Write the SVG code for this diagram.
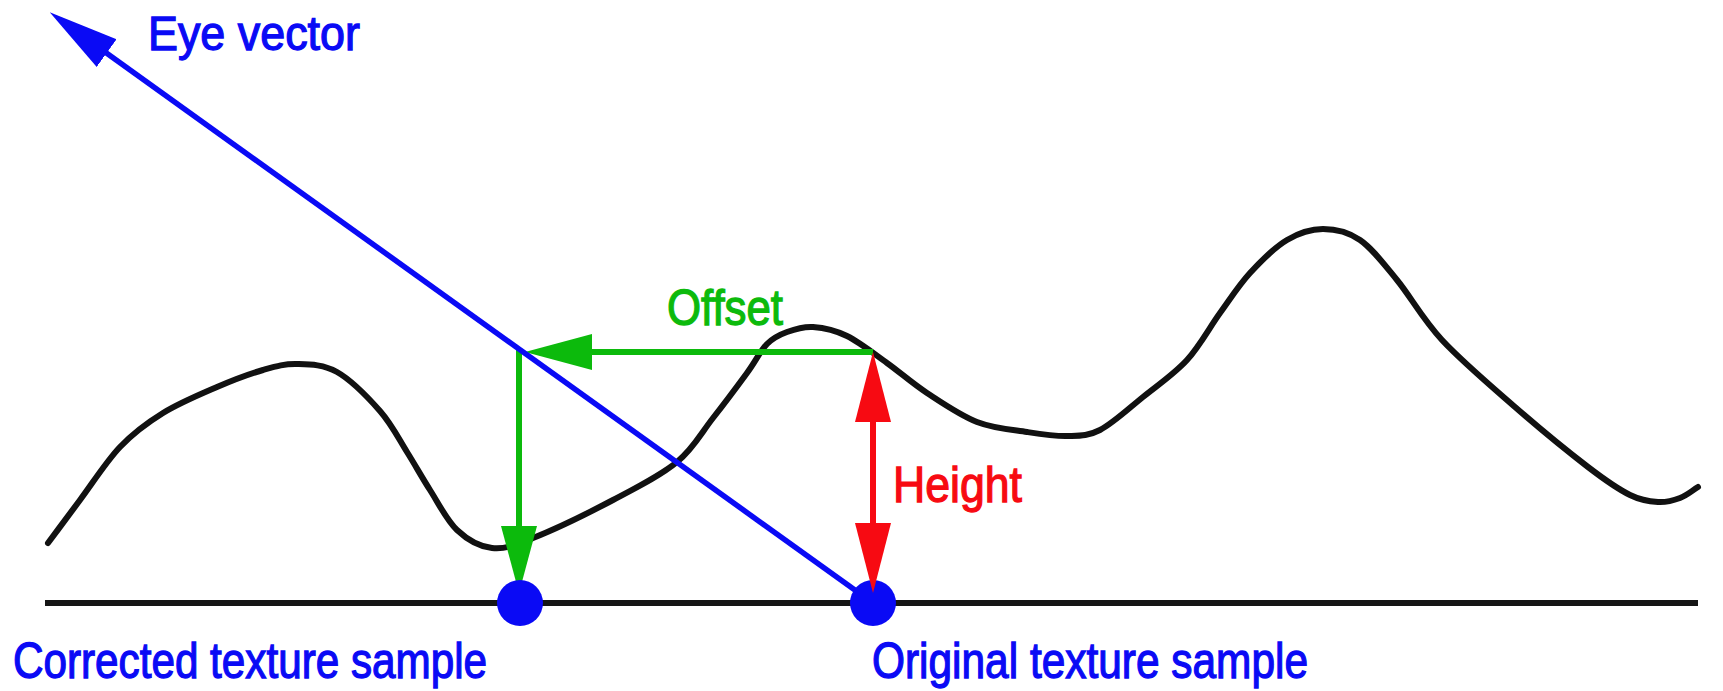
<svg xmlns="http://www.w3.org/2000/svg" width="1723" height="691" viewBox="0 0 1723 691">
<style>
text{font-family:"Liberation Sans",Arial,sans-serif;font-size:50px;stroke-width:1.3}
.blue{fill:#0a0af5}
text.blue{stroke:#0a0af5}
.green{fill:#0cba0c;stroke:#0cba0c}
.red{fill:#f70a12;stroke:#f70a12}
.ground{stroke:#161616;stroke-width:6;fill:none}
.surface{stroke:#111;stroke-width:6;fill:none;stroke-linecap:round;stroke-linejoin:round}
.eye{stroke:#0a0af5;stroke-width:5.5;fill:none}
.off{stroke:#0cba0c;stroke-width:6;fill:none}
.hgt{stroke:#f70a12;stroke-width:6;fill:none}
</style>
<defs>
<marker id="ahBlue" markerUnits="userSpaceOnUse" markerWidth="72" markerHeight="40" refX="50" refY="20" orient="auto">
<path d="M0,3 L70,20 L0,37 Z" fill="#0a0af5"/>
</marker>
<marker id="ahGreen" markerUnits="userSpaceOnUse" markerWidth="72" markerHeight="40" refX="47" refY="20" orient="auto">
<path d="M0,2 L67,20 L0,38 Z" fill="#0cba0c"/>
</marker>
<marker id="ahRed" markerUnits="userSpaceOnUse" markerWidth="72" markerHeight="40" refX="50" refY="20" orient="auto-start-reverse">
<path d="M0,2 L70,20 L0,38 Z" fill="#f70a12"/>
</marker>
</defs>
<rect width="1723" height="691" fill="#fff"/>

<g id="ground">
<line class="ground" x1="45" y1="603" x2="1698" y2="603"/>
</g>

<g id="surface">
<path class="surface" d="M48,543 C58.7,528.7 68,516 80,500 C92,484 106.2,461.5 120,447 C133.8,432.5 146.8,423 163,413 C179.2,403 200.3,394.2 217,387 C233.7,379.8 249.7,373.8 263,370 C276.3,366.2 284.7,363.7 297,364 C309.3,364.3 323.2,364.2 337,372 C350.8,379.8 368.3,397.7 380,411 C391.7,424.3 398.7,438.8 407,452 C415.3,465.2 421.7,477 430,490 C438.3,503 446.7,520.3 457,530 C467.3,539.7 479.3,546.7 492,548 C504.7,549.3 512.8,546 533,538 C553.2,530 589,512.7 613,500 C637,487.3 660.3,475.7 677,462 C693.7,448.3 701.3,432.8 713,418 C724.7,403.2 738,385.3 747,373 C756,360.7 760.3,350.8 767,344 C773.7,337.2 779.3,334.8 787,332 C794.7,329.2 803,326.3 813,327 C823,327.7 834.7,330 847,336 C859.3,342 873.7,353.5 887,363 C900.3,372.5 912,383.2 927,393 C942,402.8 960.3,415.5 977,422 C993.7,428.5 1012,429.7 1027,432 C1042,434.3 1054.8,436.3 1067,436 C1079.2,435.7 1087.3,436.5 1100,430 C1112.7,423.5 1128.5,408.7 1143,397 C1157.5,385.3 1174.2,374 1187,360 C1199.8,346 1209.5,327.5 1220,313 C1230.5,298.5 1238.8,285.2 1250,273 C1261.2,260.8 1274.8,247.3 1287,240 C1299.2,232.7 1310.8,229 1323,229 C1335.2,229 1347.7,231.5 1360,240 C1372.3,248.5 1383.3,263.3 1397,280 C1410.7,296.7 1422.3,318.8 1442,340 C1461.7,361.2 1490.7,385.8 1515,407 C1539.3,428.2 1568.8,452.3 1588,467 C1607.2,481.7 1618.3,489.2 1630,495 C1641.7,500.8 1649.7,501.5 1658,502 C1666.3,502.5 1673.3,500.5 1680,498 C1686.7,495.5 1692,490.7 1698,487"/>
</g>

<g id="connectors">
<line id="offset-arrow" class="off" x1="873" y1="352" x2="545" y2="352" marker-end="url(#ahGreen)"/>
<line id="offset-down" class="off" x1="519" y1="349" x2="519" y2="573" marker-end="url(#ahGreen)"/>
<line id="eye-vector" class="eye" x1="873" y1="603" x2="66" y2="24" marker-end="url(#ahBlue)"/>
</g>

<g id="corrected-sample">
<circle cx="520" cy="603" r="23" class="blue"/>
<text x="13" y="678" class="blue" textLength="474" lengthAdjust="spacingAndGlyphs">Corrected texture sample</text>
</g>

<g id="original-sample">
<circle cx="873" cy="603" r="23" class="blue"/>
<text x="872" y="678" class="blue" textLength="436" lengthAdjust="spacingAndGlyphs">Original texture sample</text>
</g>

<g id="height-connector">
<line id="height-arrow" class="hgt" x1="873" y1="372" x2="873" y2="573" marker-start="url(#ahRed)" marker-end="url(#ahRed)"/>
</g>

<g id="labels">
<text x="148" y="50" class="blue" style="font-size:48px" textLength="212" lengthAdjust="spacingAndGlyphs">Eye vector</text>
<text x="667" y="325" class="green" textLength="116" lengthAdjust="spacingAndGlyphs">Offset</text>
<text x="893" y="502" class="red" textLength="129" lengthAdjust="spacingAndGlyphs">Height</text>
</g>
</svg>
